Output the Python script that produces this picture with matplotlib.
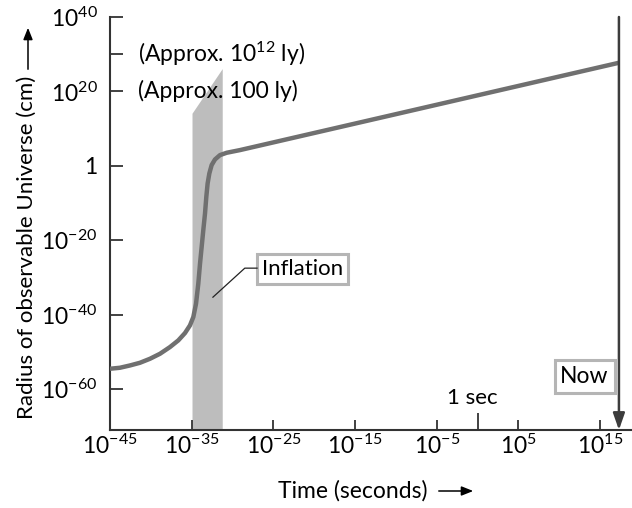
import matplotlib
matplotlib.use("Agg")
import matplotlib.pyplot as plt

plt.rcParams['font.family'] = ['Lato', 'DejaVu Sans']
plt.rcParams['mathtext.default'] = 'regular'

# log10 of time (s) and log10 of radius (cm)
log_time = [-45, -43.78, -42.55, -41.33, -40.10, -38.88, -37.66, -36.64, -35.82,
            -35.21, -34.80, -34.47, -34.19, -33.98, -33.78, -33.58, -33.37, -33.21,
            -33.05, -32.84, -32.56, -32.15, -31.54, -30.72, -29.09, 17.3]
log_radius = [-54.54, -54.27, -53.65, -52.93, -51.85, -50.51, -48.71, -46.92, -44.94,
              -42.88, -40.64, -37.05, -31.66, -26.28, -21.79, -17.31, -12.82, -8.34,
              -4.75, -2.05, 0.19, 1.71, 2.88, 3.51, 4.23, 27.7]

# inflation band (log10 s) and its slanted top (log10 cm)
inflation_x = [-34.9, -31.2]
inflation_top = [14.0, 26.0]

now_log_time = 17.3

x_ticks = [-45, -35, -25, -15, -5, 5, 15]
x_labels = ['$10^{-45}$', '$10^{-35}$', '$10^{-25}$', '$10^{-15}$',
            '$10^{-5}$', '$10^{5}$', '$10^{15}$']
y_ticks = [40, 30, 20, 0, -20, -40, -60]
y_labels = ['$10^{40}$', '', '$10^{20}$', '1', '$10^{-20}$', '$10^{-40}$', '$10^{-60}$']

fig = plt.figure(figsize=(6.32, 5.08), dpi=100)
ax = fig.add_axes([110 / 632, 1 - 430 / 508, 1 - 110 / 632, (430 - 17) / 508])
ax.set_xlim(-45, 18.9)
ax.set_ylim(-71, 40)

ymin = ax.get_ylim()[0]
ax.fill([inflation_x[0], inflation_x[0], inflation_x[1], inflation_x[1]],
        [ymin, inflation_top[0], inflation_top[1], ymin],
        color='#bdbdbd', lw=0, zorder=1)

ax.plot(log_time, log_radius, color='#707070', lw=3.2, solid_capstyle='butt',
        solid_joinstyle='round', zorder=3)

# "Now" arrow
ax.annotate('', xy=(now_log_time, ymin), xytext=(now_log_time, 40),
            arrowprops=dict(arrowstyle='-|>,head_length=1.0,head_width=0.35',
                            color='#3c3c3c', lw=1.8, shrinkA=0, shrinkB=0),
            zorder=4)
ax.text(13.1, -56.6, 'Now', ha='center', va='center', fontsize=16.5,
        bbox=dict(boxstyle='square,pad=0.25', fc='white', ec='#b5b5b5', lw=2.2))

# Inflation label with leader line
ax.plot([-32.4, -28.5, -27.0], [-35.3, -27.5, -27.5], color='#222222', lw=0.9, zorder=4)
ax.text(-21.4, -27.8, 'Inflation', ha='center', va='center', fontsize=16,
        bbox=dict(boxstyle='square,pad=0.22', fc='white', ec='#b5b5b5', lw=2.2))

ax.text(-41.6, 30, '(Approx. $10^{12}$ ly)', ha='left', va='center', fontsize=16.5)
ax.text(-41.6, 20, '(Approx. 100 ly)', ha='left', va='center', fontsize=16.5)
ax.text(-0.6, -62.3, '1 sec', ha='center', va='center', fontsize=16)

ax.set_xticks(x_ticks)
ax.set_xticklabels(x_labels, fontsize=16.5)
ax.set_xticks([0], minor=True)
ax.set_yticks(y_ticks)
ax.set_yticklabels(y_labels, fontsize=16.5)
ax.tick_params(axis='x', which='major', direction='in', length=7.5, width=1.3,
               color='#333333', pad=3)
ax.tick_params(axis='x', which='minor', direction='in', length=12.5, width=1.3,
               color='#333333')
ax.tick_params(axis='y', direction='in', length=9.5, width=1.3, color='#333333', pad=9)

for side in ['top', 'right']:
    ax.spines[side].set_visible(False)
for side in ['left', 'bottom']:
    ax.spines[side].set_color('#333333')
    ax.spines[side].set_linewidth(1.5)

# axis titles with arrows
fig.text(278 / 632, 1 - 491 / 508, 'Time (seconds)', ha='left', va='center', fontsize=16.5)
fig.text(27 / 632, 1 - 76 / 508, 'Radius of observable Universe (cm)', rotation=90,
         ha='center', va='top', fontsize=16)
fig.add_artist(matplotlib.patches.FancyArrowPatch(
    (436 / 632, 1 - 491 / 508), (476 / 632, 1 - 491 / 508), transform=fig.transFigure,
    arrowstyle='-|>,head_length=7,head_width=2.8', color='black', lw=1.1))
fig.add_artist(matplotlib.patches.FancyArrowPatch(
    (28 / 632, 1 - 72 / 508), (28 / 632, 1 - 25 / 508), transform=fig.transFigure,
    arrowstyle='-|>,head_length=7,head_width=2.8', color='black', lw=1.1))

fig.savefig('out.png', dpi=100)
